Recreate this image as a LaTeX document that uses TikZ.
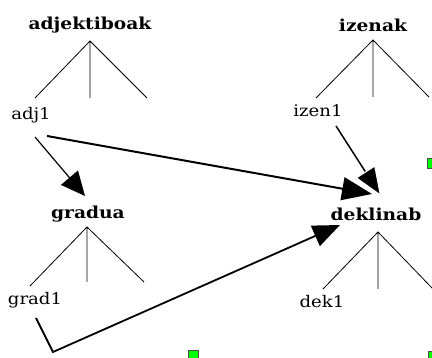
\documentclass[tikz,border=0pt]{standalone}
\usepackage{fontspec}
\setmainfont{DejaVu Serif}[FakeStretch=1.13]
\usetikzlibrary{arrows.meta}
\begin{document}
\begin{tikzpicture}[x=1pt,y=-1pt,
  cat/.style={font=\fontsize{16.5}{17}\selectfont\bfseries, inner sep=0pt},
  inst/.style={font=\fontsize{16}{17}\selectfont, inner sep=0pt},
  leg/.style={line width=0.8pt},
  rel/.style={line width=1.5pt, -{Triangle[length=24pt,width=22pt]}},
  marker/.style={draw=black!70, fill=green, line width=1pt}]
\useasboundingbox (0,0) rectangle (432,358);

% adjektiboak tree
\node[cat] (adjektiboak) at (90,25) {adjektiboak};
\coordinate (aA) at (90,41);
\coordinate (aL) at (35,98);
\coordinate (aM) at (90,98);
\coordinate (aR) at (147,98);
\draw[leg] (aL) -- (aA) -- (aR) (aA) -- (aM);
\node[inst] (adj1) at (31,115) {adj1};

% izenak tree
\node[cat] (izenak) at (373,25) {izenak};
\coordinate (iA) at (373,40);
\coordinate (iL) at (316,98);
\coordinate (iM) at (373,97);
\coordinate (iR) at (429,97);
\draw[leg] (iL) -- (iA) -- (iR) (iA) -- (iM);
\node[inst] (izen1) at (318,111) {izen1};

% gradua tree
\node[cat] (gradua) at (88,214) {gradua};
\coordinate (gA) at (87,227);
\coordinate (gL) at (30,286);
\coordinate (gM) at (87,282);
\coordinate (gR) at (144,282);
\draw[leg] (gL) -- (gA) -- (gR) (gA) -- (gM);
\node[inst] (grad1) at (35,300) {grad1};

% deklinab tree
\node[cat] (deklinab) at (376,214) {deklinab};
\coordinate (dA) at (378,232);
\coordinate (dL) at (323,289);
\coordinate (dM) at (378,289);
\coordinate (dR) at (433,289);
\draw[leg] (dL) -- (dA) -- (dR) (dA) -- (dM);
\node[inst] (dek1) at (322,302) {dek1};

% relation arrows
\coordinate (adj1out1) at (35,137);
\coordinate (graduaIn) at (85,196);
\draw[rel, line width=1.2pt] (adj1out1) -- (graduaIn);

\coordinate (adj1out2) at (47,136);
\coordinate (deklinabInA) at (372,194);
\draw[rel, line width=2pt, -{Triangle[length=30pt,width=23pt]}] (adj1out2) -- (deklinabInA);

\coordinate (grad1out) at (36,318);
\coordinate (grad1bend) at (53,352);
\coordinate (deklinabInG) at (340,225);
\draw[rel, line width=1.8pt, -{Triangle[length=27pt,width=22pt]}] (grad1out) -- (grad1bend) -- (deklinabInG);

\coordinate (izen1out) at (336,126);
\coordinate (deklinabInI) at (381,196);
\draw[rel, line width=1.5pt, -{Triangle[length=29pt,width=23pt,color=white,fill=black,line width=1pt]}] (izen1out) -- (deklinabInI);

% green markers
\draw[marker] (427,159) rectangle (437,169);
\draw[marker] (188,351) rectangle (198,361);
\draw[marker] (428,352) rectangle (438,362);
\end{tikzpicture}
\end{document}
